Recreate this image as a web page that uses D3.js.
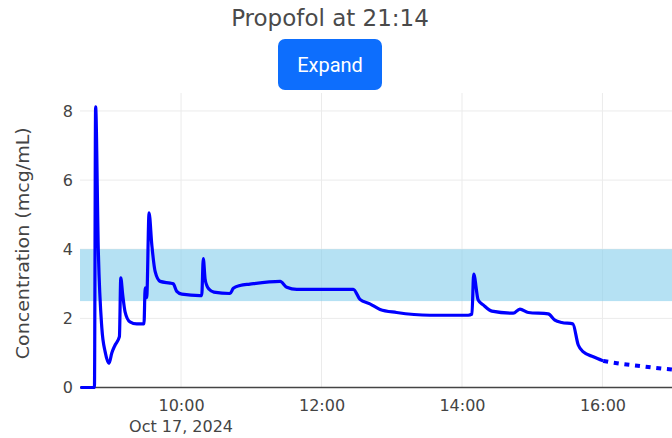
<!DOCTYPE html>
<html>
<head>
<meta charset="utf-8">
<script src="https://cdn.jsdelivr.net/npm/d3@7"></script>
<style>
  body { margin: 0; background: #fff; }
  svg { display: block; }
</style>
</head>
<body>
<script>
// propofol concentration chart

var width = 672,
    height = 438;

var chartTitle = "Propofol at 21:14";
var buttonLabel = "Expand";
var dateLabel = "Oct 17, 2024";
var yTitle = "Concentration (mcg/mL)";
var day = "2024-10-17";

// measured concentration (solid)
var measuredTimes = ["08:34:00", "08:46:00", "08:47:00", "08:49:20", "08:52:20", "08:55:10", "08:58:30",
  "09:00:50", "09:03:40", "09:07:20", "09:08:30", "09:10:10", "09:12:10", "09:16:20", "09:22:10",
  "09:28:20", "09:29:20", "09:30:40", "09:32:40", "09:35:00", "09:37:50", "09:42:10", "09:50:40",
  "09:53:20", "09:56:20", "10:00:40", "10:16:10", "10:17:40", "10:19:00", "10:20:30", "10:22:00",
  "10:24:00", "10:28:00", "10:41:50", "10:44:40", "10:50:20", "10:58:50", "11:24:40", "11:30:20",
  "11:38:50", "12:27:10", "12:32:50", "12:41:20", "12:50:00", "13:04:10", "13:32:40", "14:05:20",
  "14:08:30", "14:10:00", "14:13:50", "14:18:10", "14:25:30", "14:43:50", "14:49:30", "14:56:40",
  "15:13:40", "15:19:20", "15:25:10", "15:34:40", "15:39:20", "15:43:40", "15:52:10", "16:00:40"];
var measuredValues = [0, 0, 8.12, 3.94, 1.72, 1.03, 0.70,
  1.00, 1.23, 1.47, 3.17, 2.68, 2.19, 1.90, 1.84,
  1.84, 2.88, 2.60, 5.05, 4.13, 3.36, 3.07, 3.02,
  3.00, 2.78, 2.70, 2.66, 2.66, 3.73, 3.15, 2.95,
  2.84, 2.76, 2.72, 2.87, 2.95, 2.99, 3.07, 2.90,
  2.84, 2.84, 2.55, 2.42, 2.26, 2.17, 2.09, 2.09,
  2.12, 3.28, 2.53, 2.39, 2.21, 2.15, 2.27, 2.17,
  2.13, 1.95, 1.88, 1.84, 1.23, 1.03, 0.89, 0.77];

// predicted concentration (dotted)
var predictedTimes = ["16:00:40", "16:15:00", "16:30:00", "16:45:00", "17:00:00", "17:10:00"];
var predictedValues = [0.77, 0.69, 0.63, 0.57, 0.52, 0.49];

// target band
var bandLow = 2.5, bandHigh = 4;

var yTicks = [0, 2, 4, 6, 8];
var xTicks = ["10:00:00", "12:00:00", "14:00:00", "16:00:00"];
var xDomain = ["08:33:40", "16:59:25"];
var yDomain = [0, 8.52];

var parseTime = d3.timeParse("%Y-%m-%d %H:%M:%S");
function t(s) { return parseTime(day + " " + s); }

var measured = measuredTimes.map(function(d, i) { return { time: t(d), value: measuredValues[i] }; });
var predicted = predictedTimes.map(function(d, i) { return { time: t(d), value: predictedValues[i] }; });

var plotLeft = 80, plotRight = 672, plotTop = 93, plotBottom = 387.5;

var svg = d3.select("body").append("svg")
    .attr("width", width)
    .attr("height", height);

var xScale = d3.scaleTime()
    .domain(xDomain.map(t))
    .range([plotLeft, plotRight]);

var yScale = d3.scaleLinear()
    .domain(yDomain)
    .range([plotBottom, plotTop]);

svg.append("defs").append("clipPath").attr("id", "plotclip")
  .append("rect")
    .attr("x", plotLeft).attr("y", 0)
    .attr("width", plotRight - plotLeft).attr("height", height);

// title + button
svg.append("text")
    .attr("x", 330).attr("y", 26)
    .attr("text-anchor", "middle")
    .style("font-family", "DejaVu Sans, Verdana, sans-serif")
    .style("font-size", "23px")
    .style("fill", "#4a4a4a")
    .text(chartTitle);

svg.append("rect")
    .attr("x", 278).attr("y", 39)
    .attr("width", 104).attr("height", 51)
    .attr("rx", 7)
    .attr("fill", "#0d6efd");

svg.append("text")
    .attr("x", 330).attr("y", 72)
    .attr("text-anchor", "middle")
    .style("font-family", "Roboto, sans-serif")
    .style("font-size", "20px")
    .style("fill", "#fff")
    .text(buttonLabel);

// grid
var grid = svg.append("g");
grid.selectAll("line.h").data(yTicks.slice(1)).enter().append("line")
    .attr("x1", plotLeft).attr("x2", plotRight)
    .attr("y1", function(d) { return yScale(d); })
    .attr("y2", function(d) { return yScale(d); })
    .attr("stroke", "#ebebeb").attr("stroke-width", 1);
grid.selectAll("line.v").data(xTicks.map(t)).enter().append("line")
    .attr("x1", function(d) { return xScale(d); })
    .attr("x2", function(d) { return xScale(d); })
    .attr("y1", plotTop).attr("y2", plotBottom)
    .attr("stroke", "#ebebeb").attr("stroke-width", 1);

// target band
svg.append("rect")
    .attr("x", plotLeft)
    .attr("y", yScale(bandHigh))
    .attr("width", plotRight - plotLeft)
    .attr("height", yScale(bandLow) - yScale(bandHigh))
    .attr("fill", "#87ceeb")
    .attr("fill-opacity", 0.62);

// zero line
svg.append("line")
    .attr("x1", plotLeft).attr("x2", plotRight)
    .attr("y1", yScale(0)).attr("y2", yScale(0))
    .attr("stroke", "#444").attr("stroke-width", 1.6);

// axes
var yAxis = d3.axisLeft(yScale).tickValues(yTicks).tickSize(0).tickPadding(7);
var gy = svg.append("g")
    .attr("transform", "translate(" + plotLeft + ",0)")
    .call(yAxis);
gy.select(".domain").remove();
gy.selectAll("text")
    .style("font-family", "DejaVu Sans, Verdana, sans-serif")
    .style("font-size", "16px")
    .style("fill", "#444");

var xAxis = d3.axisBottom(xScale).tickValues(xTicks.map(t))
    .tickFormat(d3.timeFormat("%H:%M")).tickSize(0).tickPadding(12);
var gx = svg.append("g")
    .attr("transform", "translate(0," + plotBottom + ")")
    .call(xAxis);
gx.select(".domain").remove();
gx.selectAll("text")
    .style("font-family", "DejaVu Sans, Verdana, sans-serif")
    .style("font-size", "16px")
    .style("fill", "#444");

svg.append("text")
    .attr("x", xScale(t(xTicks[0])))
    .attr("y", 431.5)
    .attr("text-anchor", "middle")
    .style("font-family", "DejaVu Sans, Verdana, sans-serif")
    .style("font-size", "16px")
    .style("fill", "#444")
    .text(dateLabel);

svg.append("text")
    .attr("transform", "translate(29," + ((plotTop + plotBottom) / 2 + 3) + ") rotate(-90)")
    .attr("text-anchor", "middle")
    .attr("textLength", 232)
    .attr("lengthAdjust", "spacingAndGlyphs")
    .style("font-family", "DejaVu Sans, Verdana, sans-serif")
    .style("font-size", "18.5px")
    .style("fill", "#444")
    .text(yTitle);

// lines
var line = d3.line()
    .x(function(d) { return xScale(d.time); })
    .y(function(d) { return yScale(d.value); })
    .curve(d3.curveMonotoneX);

var plot = svg.append("g").attr("clip-path", "url(#plotclip)");

plot.append("path")
    .datum(predicted)
    .attr("d", line)
    .attr("fill", "none")
    .attr("stroke", "#0000ff")
    .attr("stroke-width", 4)
    .attr("stroke-dasharray", "5,5.7");

plot.append("path")
    .datum(measured)
    .attr("d", line)
    .attr("fill", "none")
    .attr("stroke", "#0000ff")
    .attr("stroke-width", 3.2)
    .attr("stroke-linejoin", "round");
</script>
</body>
</html>
